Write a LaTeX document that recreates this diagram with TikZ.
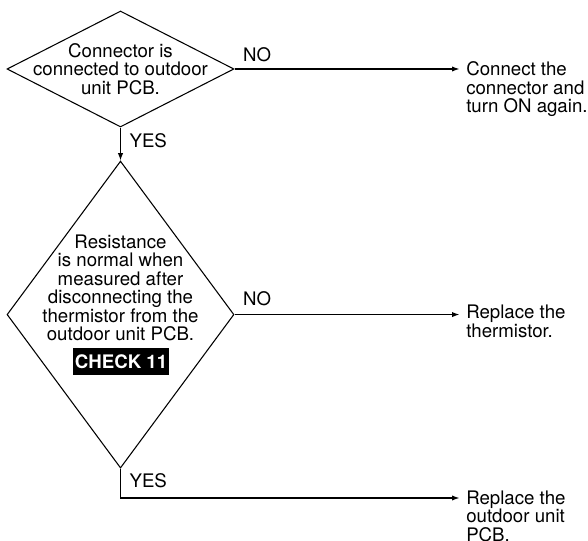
\documentclass[tikz,border=0pt]{standalone}
\usepackage{fontspec}
\setmainfont{TeX Gyre Heros}
\usetikzlibrary{shapes.geometric, arrows.meta, positioning, calc}

\begin{document}
\begin{tikzpicture}[
	x=0.75pt, y=-0.75pt,
	every node/.style={font=\fontsize{14}{13.9}\selectfont},
	decision/.style={diamond, draw=black, line width=0.8pt, inner sep=0pt, minimum width=170.25pt},
	question/.style={align=center, inner sep=0pt},
	action/.style={align=left, inner sep=0pt, anchor=north west},
	answer/.style={inner sep=0pt},
	check/.style={fill=black, text=white, font=\bfseries\fontsize{14}{14}\selectfont, minimum width=72pt, minimum height=20pt, inner sep=0pt},
	arrow/.style={-{Latex[length=5.5pt, width=4pt]}, line width=0.8pt, shorten >=5pt}
]
\useasboundingbox (0,0) rectangle (588,541);

% Decision diamonds
\node[decision, minimum height=87pt] (q1) at (120.5,69) {};
\node[question] (q1text) at (q1.center) {Connector is\\ connected to outdoor\\ unit PCB.};
\node[decision, minimum height=230.25pt, below=24.75pt of q1] (q2) {};
\node[question] (q2text) at (120.5,288) {Resistance\\ is normal when\\ measured after\\ disconnecting the\\ thermistor from the\\ outdoor unit PCB.};
\node[check] (chk) at (121,361.5) {CHECK 11};

% Actions
\node[action] (act1) at (466,61.5) {Connect the\\ connector and\\ turn ON again.};
\node[action] (act2) at (466,305) {Replace the\\ thermistor.};
\node[action] (act3) at (466,490.5) {Replace the\\ outdoor unit\\ PCB.};

% Connectors
\draw[arrow] (q1.east) -- (q1.east -| act1.west)
	node[answer, at start, above right=5pt and 6pt] (no1) {NO};
\draw[arrow, shorten >=0pt] (q1.south) -- (q2.north)
	node[answer, at start, below right=4pt and 6.4pt] (yes1) {YES};
\draw[arrow] (q2.east) -- (q2.east -| act2.west)
	node[answer, at start, above right=6pt and 6pt] (no2) {NO};
\draw[arrow] (q2.south) |- ($(act3.north west)+(0,7.5)$)
	node[answer, at start, below right=3.2pt and 6.4pt] (yes2) {YES};

\end{tikzpicture}
\end{document}
